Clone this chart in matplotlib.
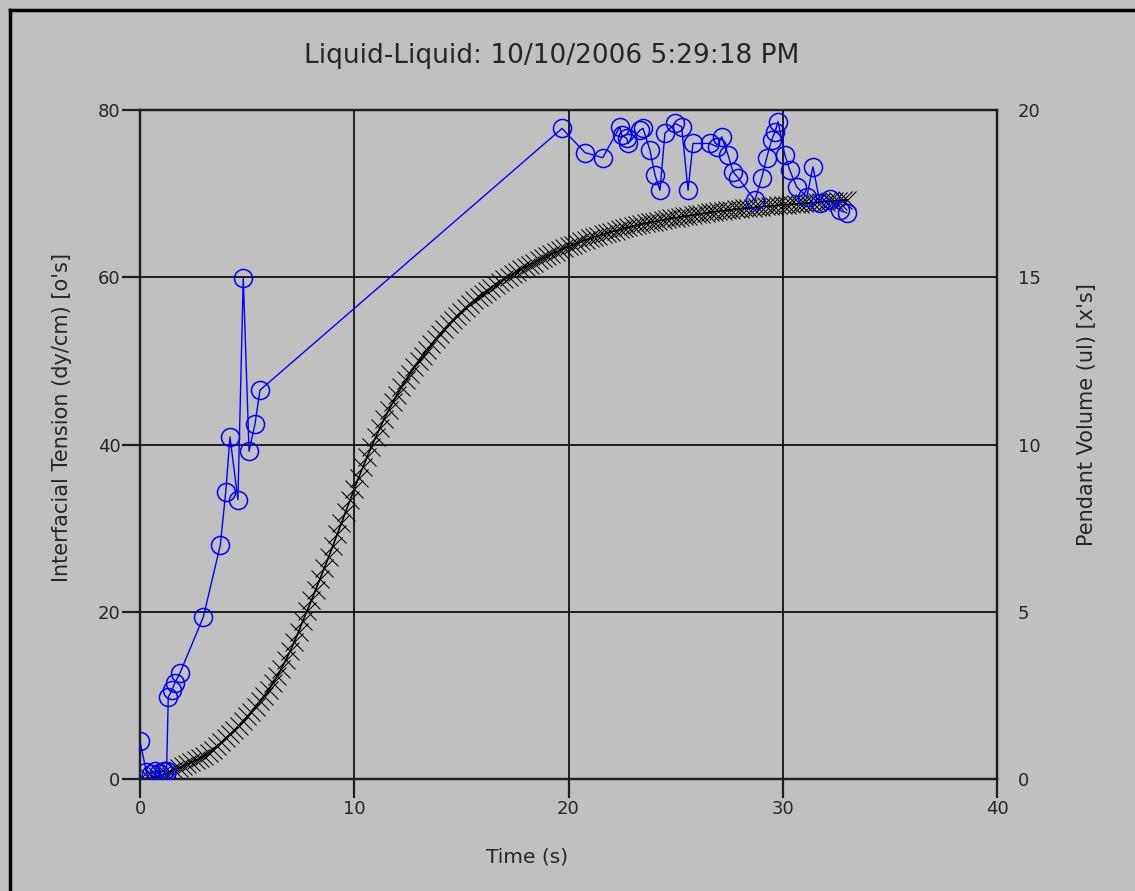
import numpy as np
import matplotlib
matplotlib.use('Agg')
import matplotlib.pyplot as plt
from matplotlib.lines import Line2D

plt.rcParams['font.family'] = ['DejaVu Sans']

TITLE = 'Liquid-Liquid: 10/10/2006 5:29:18 PM'

# interfacial tension samples (o's), left axis
ift_time = [0.0, 0.3, 0.5, 0.7, 0.9, 1.1, 1.24, 1.32, 1.48, 1.63, 1.87, 2.96,
            3.75, 4.0, 4.2, 4.57, 4.82, 5.09, 5.37, 5.6,
            19.7, 20.77, 21.6, 22.4, 22.48, 22.72, 22.78, 23.34, 23.48, 23.8,
            24.04, 24.27, 24.5, 24.97, 25.28, 25.58, 25.81, 26.6, 26.92, 27.15,
            27.45, 27.68, 27.91, 28.7, 29.02, 29.25, 29.48, 29.64, 29.78, 30.1,
            30.33, 30.65, 31.12, 31.41, 31.74, 32.2, 32.67, 32.98]
ift_value = [4.5, 0.8, 0.6, 0.9, 0.7, 1.0, 0.9, 9.8, 10.6, 11.5, 12.7, 19.4,
             28.0, 34.3, 40.9, 33.4, 59.9, 39.2, 42.5, 46.5,
             77.8, 74.9, 74.3, 78.0, 77.0, 76.6, 76.0, 77.6, 77.8, 75.2,
             72.2, 70.4, 77.2, 78.4, 78.0, 70.4, 76.0, 76.0, 75.6, 76.8,
             74.6, 72.6, 71.9, 69.2, 71.9, 74.3, 76.4, 77.4, 78.6, 74.6,
             72.8, 70.8, 69.6, 73.2, 68.9, 69.3, 68.0, 67.7]

# pendant volume (x's), right axis, sampled every 0.2 s
vol_step = 0.2
vol_value = [0.00, 0.01, 0.03, 0.05, 0.08, 0.11, 0.16, 0.22, 0.28, 0.33,
             0.38, 0.44, 0.50, 0.56, 0.62, 0.70, 0.78, 0.88, 0.99, 1.10,
             1.22, 1.34, 1.46, 1.59, 1.73, 1.87, 2.01, 2.16, 2.32, 2.48,
             2.66, 2.86, 3.07, 3.30, 3.55, 3.82, 4.10, 4.40, 4.72, 5.03,
             5.34, 5.66, 5.98, 6.30, 6.63, 6.97, 7.31, 7.65, 7.99, 8.33,
             8.67, 9.00, 9.32, 9.63, 9.93, 10.22, 10.50, 10.77, 11.02, 11.26,
             11.49, 11.71, 11.92, 12.12, 12.31, 12.49, 12.66, 12.83, 12.99, 13.15,
             13.30, 13.45, 13.59, 13.72, 13.85, 13.97, 14.09, 14.20, 14.31, 14.41,
             14.51, 14.60, 14.69, 14.78, 14.86, 14.94, 15.02, 15.10, 15.17, 15.24,
             15.31, 15.38, 15.44, 15.51, 15.57, 15.63, 15.69, 15.75, 15.81, 15.87,
             15.92, 15.97, 16.02, 16.07, 16.12, 16.16, 16.20, 16.24, 16.28, 16.32,
             16.36, 16.39, 16.43, 16.46, 16.49, 16.52, 16.55, 16.58, 16.61, 16.64,
             16.66, 16.69, 16.71, 16.74, 16.76, 16.78, 16.80, 16.82, 16.84, 16.86,
             16.88, 16.90, 16.92, 16.94, 16.96, 16.97, 16.99, 17.00, 17.02, 17.03,
             17.05, 17.06, 17.07, 17.08, 17.10, 17.11, 17.12, 17.13, 17.14, 17.15,
             17.16, 17.17, 17.18, 17.19, 17.20, 17.21, 17.22, 17.23, 17.24, 17.25,
             17.26, 17.27, 17.28, 17.29, 17.30, 17.31]
vol_time = np.arange(len(vol_value)) * vol_step

x_ticks = [0, 10, 20, 30, 40]
left_ticks = [0, 20, 40, 60, 80]
right_ticks = [0, 5, 10, 15, 20]

W, H = 1135, 891
bg = '#c0c0c0'
ink = '#262626'
fig = plt.figure(figsize=(W / 100, H / 100), dpi=100, facecolor=bg)

ax = fig.add_axes([140 / W, 1 - 779 / H, 857 / W, 669 / H])
ax2 = ax.twinx()

ax2.plot(vol_time, vol_value, color='black', lw=1.2, marker='x',
         markersize=13, markeredgewidth=0.75, zorder=2)
ax.plot(ift_time, ift_value, color='#0000ff', lw=1.0, marker='o',
        markersize=13, markerfacecolor='none', markeredgecolor='#0000ff',
        markeredgewidth=1.1, zorder=3)

# circles drawn above the x's
ax.set_zorder(ax2.get_zorder() + 1)
ax.patch.set_visible(False)
ax2.set_facecolor(bg)

ax.set_xlim(0, 40)
ax.set_ylim(0, 80)
ax2.set_ylim(0, 20)
ax.set_xticks(x_ticks)
ax.set_yticks(left_ticks)
ax2.set_yticks(right_ticks)

for a in (ax, ax2):
    for s in a.spines.values():
        s.set_color('#1e1e1e')
        s.set_linewidth(1.6)

ax.grid(True, color='#111111', lw=1.3, zorder=1)
ax.tick_params(axis='x', length=14, width=1.6, color='#1e1e1e', pad=1,
               labelsize=13, labelcolor=ink)
ax.tick_params(axis='y', length=13, width=1.6, color='#1e1e1e', pad=1,
               labelsize=13, labelcolor=ink)
ax2.tick_params(axis='y', length=0, pad=15, labelsize=13, labelcolor=ink)

fig.text(552 / W, 1 - 56 / H, TITLE, ha='center', va='center',
         fontsize=19, color=ink)
fig.text(527 / W, 1 - 857 / H, 'Time (s)', ha='center', va='center',
         fontsize=14.5, color=ink)
fig.text(62 / W, 1 - 418 / H, "Interfacial Tension (dy/cm) [o's]", ha='center',
         va='center', rotation=90, fontsize=15, color=ink)
fig.text(1087 / W, 1 - 415 / H, "Pendant Volume (ul) [x's]", ha='center',
         va='center', rotation=90, fontsize=15, color=ink)

# outer frame (left and top edges visible)
fig.add_artist(Line2D([9.5 / W, 9.5 / W], [0, 1 - 9.5 / H], color='black',
                      lw=2.5, transform=fig.transFigure))
fig.add_artist(Line2D([9.5 / W, 1], [1 - 9.5 / H, 1 - 9.5 / H], color='black',
                      lw=2.5, transform=fig.transFigure))

fig.savefig('out.png', dpi=100, facecolor=bg)
